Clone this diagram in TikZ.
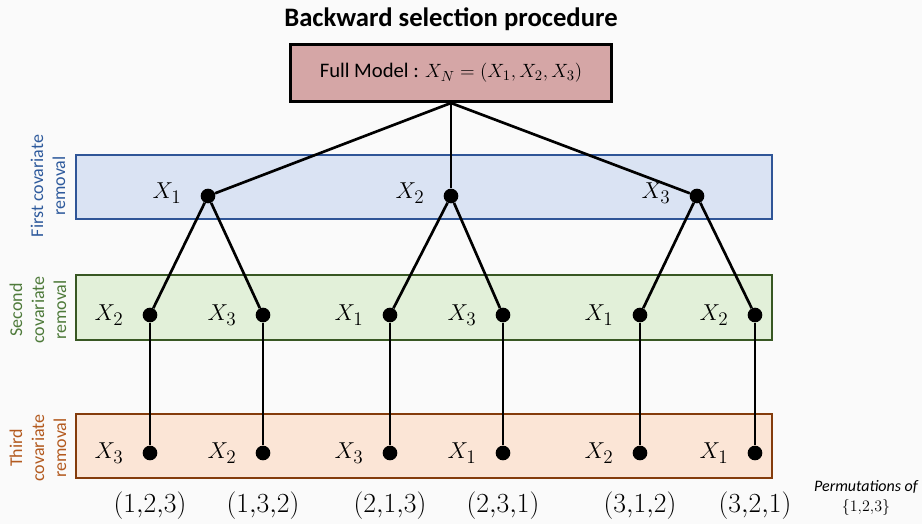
\documentclass[tikz,border=0pt]{standalone}
\usepackage{fontspec}
\setmainfont{Carlito}
\usepackage{amsmath}
\usetikzlibrary{positioning}
\definecolor{pagebg}{HTML}{FAFAFA}
\definecolor{fullfill}{HTML}{D5A6A6}
\definecolor{firstfill}{HTML}{DAE3F3}
\definecolor{firstline}{HTML}{2F5597}
\definecolor{firsttext}{HTML}{2E5A9C}
\definecolor{secondfill}{HTML}{E2F0D9}
\definecolor{secondline}{HTML}{385723}
\definecolor{secondtext}{HTML}{4E7A3A}
\definecolor{thirdfill}{HTML}{FBE5D6}
\definecolor{thirdline}{HTML}{843C0C}
\definecolor{thirdtext}{HTML}{B35A1F}

\begin{document}
\begin{tikzpicture}[x=0.75pt,y=-0.75pt,
   dot/.style={circle,fill=black,inner sep=0pt,minimum size=11pt},
   var/.style={inner sep=0pt,font=\fontsize{19}{22}\selectfont},
   perm/.style={inner sep=0pt,font=\fontsize{22}{26}\selectfont},
   band/.style={line width=2pt},
   side/.style={rotate=90,align=center,inner sep=0pt,font=\fontsize{13.5}{16.5}\selectfont},
   conn/.style={line width=2pt}]
  \fill[pagebg] (0,0) rectangle (922,524);
  \useasboundingbox (0,0) rectangle (922,524);
  % title and full model
  \node[font=\fontsize{20}{24}\bfseries] (title) at (451,19) {Backward selection procedure};
  \node[draw=black,fill=fullfill,line width=2pt,minimum width=241pt,minimum height=43pt,
        font=\fontsize{15.5}{18}\selectfont] (full) at (451,73) {Full Model : $X_N=(X_1,X_2,X_3)$};
  % the three removal steps
  \draw[band,draw=firstline,fill=firstfill] (76,155) rectangle (772,219);
  \draw[band,draw=secondline,fill=secondfill] (76,275) rectangle (772,340);
  \draw[band,draw=thirdline,fill=thirdfill] (76,414) rectangle (772,478);
  \node[side,text=firsttext] (first) at (48,186) {First covariate\\removal};
  \node[side,text=secondtext] (second) at (38,310) {Second\\covariate\\removal};
  \node[side,text=thirdtext] (third) at (38,448) {Third\\covariate\\removal};
  % first removal
  \foreach \x/\i in {208/1,451/2,697/3}{
    \node[dot] (a\i) at (\x,196) {};
    \node[var,left=14pt of a\i,yshift=2pt] (la\i) {$X_{\i}$};
  }
  % second removal
  \foreach \x/\i/\v in {150/1/2,263/2/3,390/3/1,503/4/3,640/5/1,755/6/2}{
    \node[dot] (b\i) at (\x,315) {};
    \node[var,left=14pt of b\i] (lb\i) {$X_{\v}$};
  }
  % third removal and permutations
  \foreach \x/\i/\v/\p in {150/1/3/{1{,}2{,}3},263/2/2/{1{,}3{,}2},390/3/3/{2{,}1{,}3},
                          503/4/1/{2{,}3{,}1},640/5/2/{3{,}1{,}2},755/6/1/{3{,}2{,}1}}{
    \node[dot] (c\i) at (\x,453) {};
    \node[var,left=14pt of c\i] (lc\i) {$X_{\v}$};
    \node[perm] (p\i) at (\x,506) {$(\p)$};
  }
  \node[align=center,inner sep=0pt,font=\fontsize{12}{15}\itshape] (note) at (866,498)
     {Permutations of\\\upshape$\{1{,}2{,}3\}$};
  % connectors
  \foreach \i in {1,2,3}
    \draw[conn] (full.south) -- (a\i);
  \foreach \p/\c in {1/1,1/2,2/3,2/4,3/5,3/6}
    \draw[conn] (a\p) -- (b\c);
  \foreach \c in {1,...,6}
    \draw[conn] (b\c) -- (c\c);
\end{tikzpicture}
\end{document}
